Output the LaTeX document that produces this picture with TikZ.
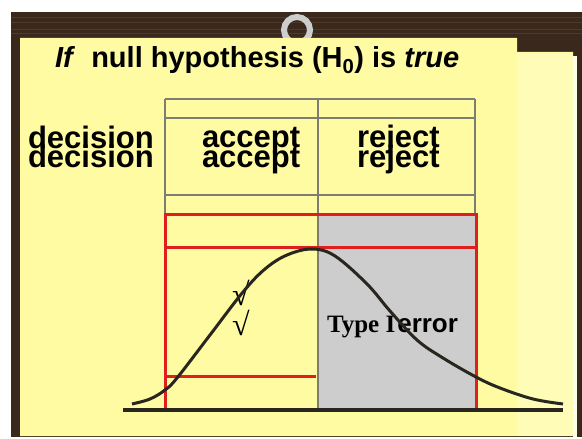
\documentclass[tikz,border=0pt]{standalone}
\usepackage{fontspec}
\setmainfont{Liberation Sans}
\newfontfamily\serifx{Liberation Serif}
\definecolor{boardbrown}{RGB}{58,40,28}
\definecolor{boardline}{RGB}{78,58,42}
\definecolor{noteyellow}{RGB}{254,251,163}
\definecolor{notelight}{RGB}{254,252,182}
\definecolor{tablegray}{RGB}{125,125,115}
\definecolor{redline}{RGB}{225,30,30}
\definecolor{shadegray}{RGB}{205,205,205}
\definecolor{inkdark}{RGB}{40,38,30}
\definecolor{ringgray}{RGB}{205,205,205}
\begin{document}
\begin{tikzpicture}[x=1bp,y=-1bp,
  txt/.style={inner sep=0pt, outer sep=0pt, anchor=base west, text=black},
  bigword/.style={txt, font=\fontsize{31bp}{31bp}\selectfont\bfseries},
  chk/.style={inner sep=0pt, font=\serifx\fontsize{32bp}{32bp}\selectfont},
  tbl/.style={draw=tablegray, line width=2.6bp},
  redl/.style={draw=redline, line width=3bp},
  baseln/.style={draw=inkdark, line width=3.4bp},
  bell/.style={draw=inkdark, line width=3bp}]
\useasboundingbox (0,0) rectangle (582,439);
\fill[white] (0,0) rectangle (582,439);
% board
\fill[boardbrown] (11,12) rectangle (582,437);
\foreach \yy in {17,22,29,33} \draw[boardline, line width=0.8bp] (11,\yy) -- (582,\yy);
% ring
\draw[ringgray, line width=6bp] (297,30) circle[radius=13];
% note
\fill[noteyellow] (20,38) -- (517,38) -- (517,52) -- (573,52) -- (573,436) -- (20,436) -- cycle;
\fill[notelight] (517,53) rectangle (573,436);
\fill[white!70!notelight] (573,56) rectangle (577,437);
% shaded rejection region
\fill[shadegray] (318,216) rectangle (476,410);
% table grid
\draw[tbl] (165,99) -- (475,99);
\draw[tbl] (165,118) -- (475,118);
\draw[tbl] (165,195) -- (475,195);
\draw[tbl] (165,99) -- (165,215);
\draw[tbl] (318,99) -- (318,410);
\draw[tbl] (475,99) -- (475,215);
% red frame
\draw[redl] (165,215) rectangle (476,410);
\draw[redl] (165,248) -- (476,248);
\draw[redl] (165,376) -- (316,376);
% axis
\draw[baseln] (123,410) -- (563,410);
% texts
\node[txt, font=\fontsize{29bp}{29bp}\selectfont\bfseries] (title) at (55,68) {\textit{If}\ \ null hypothesis (H\textsubscript{0}) is \textit{true}};
\node[bigword] (dec1) at (28,149) {decision};
\node[bigword] (dec2) at (28,168) {decision};
\node[bigword] (acc1) at (202,148) {accept};
\node[bigword] (acc2) at (202,168) {accept};
\node[bigword] (rej1) at (357,148) {reject};
\node[bigword] (rej2) at (357,168) {reject};
\node[txt] (err) at (327,332) {{\serifx\bfseries\fontsize{25bp}{25bp}\selectfont Type I}\hspace{2bp}{\bfseries\fontsize{26bp}{26bp}\selectfont error}};
\node[chk] (chk1) at (241,293) {√};
\node[chk] (chk2) at (241,323) {√};
% bell curve
\draw[bell] plot[smooth, tension=0.6] coordinates {(132,404) (150,399) (165,390) (177,378) (210,335) (243,292) (265,269) (287,255) (312,249) (335,256) (367,284) (390,311) (417,340) (443,358) (476,377) (500,388) (533,399) (563,404)};
\end{tikzpicture}
\end{document}
